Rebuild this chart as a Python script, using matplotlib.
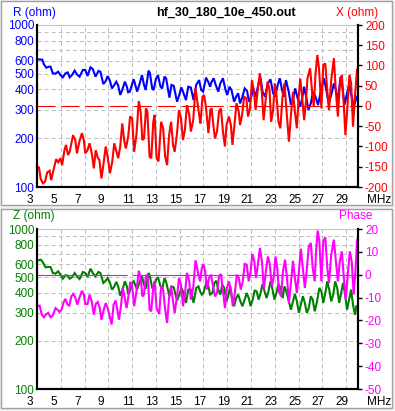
import matplotlib
matplotlib.use("Agg")
import matplotlib.pyplot as plt
from matplotlib.transforms import offset_copy
from matplotlib.patches import Rectangle

plt.rcParams['font.family'] = ['Liberation Sans', 'DejaVu Sans']
plt.rcParams['lines.scale_dashes'] = False
TICKFONT = ['Liberation Sans Narrow', 'Liberation Sans', 'DejaVu Sans']
TS = 8.5

title = "hf_30_180_10e_450.out"
xtick_vals = [3, 5, 7, 9, 11, 13, 15, 17, 19, 21, 23, 25, 27, 29]
log_ticks = [100, 200, 300, 400, 500, 600, 700, 800, 900, 1000]
log_labels = ["100", "200", "300", "400", "500", "600", "", "800", "", "1000"]
x_ticks = [-200, -150, -100, -50, 0, 50, 100, 150, 200]
ph_ticks = [-50, -40, -30, -20, -10, 0, 10, 20]

freq_R = [3.03, 3.44, 3.58, 3.78, 4.00, 4.14, 4.33, 4.56, 4.78, 4.97, 5.17, 5.39, 5.58, 5.75, 5.94,
          6.17, 6.36, 6.58, 6.86, 7.06, 7.25, 7.50, 7.69, 7.92, 8.17, 8.33, 8.58, 8.78, 8.94, 9.11,
          9.31, 9.47, 9.67, 9.83, 10.00, 10.19, 10.39, 10.56, 10.67, 10.81, 11.00, 11.14, 11.31, 11.42,
          11.64, 11.83, 12.00, 12.14, 12.39, 12.50, 12.69, 12.81, 13.00, 13.17, 13.39, 13.53, 13.72,
          13.86, 14.14, 14.31, 14.50, 14.78, 14.97, 15.14, 15.28, 15.53, 15.72, 15.94, 16.17, 16.39,
          16.64, 16.81, 16.97, 17.22, 17.42, 17.56, 17.69, 17.86, 18.03, 18.25, 18.42, 18.64, 18.86,
          19.00, 19.19, 19.36, 19.58, 19.75, 19.92, 20.08, 20.28, 20.47, 20.67, 20.83, 21.03, 21.19,
          21.39, 21.64, 21.81, 21.97, 22.19, 22.42, 22.64, 22.86, 23.03, 23.25, 23.42, 23.64, 23.75,
          23.94, 24.17, 24.36, 24.58, 24.72, 24.92, 25.14, 25.33, 25.47, 25.69, 25.83, 26.03, 26.22,
          26.42, 26.64, 26.86, 27.14, 27.36, 27.53, 27.75, 27.97, 28.14, 28.31, 28.53, 28.69, 28.86,
          29.08, 29.25, 29.47, 29.64, 29.81, 29.92]
R_ohm = [614, 611, 572, 545, 553, 553, 503, 501, 515, 491, 475, 503, 510, 475, 491,
         523, 496, 480, 528, 528, 484, 548, 535, 480, 520, 515, 432, 451, 484, 457,
         406, 423, 447, 423, 370, 401, 447, 416, 384, 388, 432, 462, 416, 388,
         436, 491, 427, 397, 523, 503, 406, 397, 464, 491, 416, 406, 480,
         469, 356, 427, 421, 336, 370, 412, 388, 344, 416, 411, 344, 427,
         457, 397, 388, 473, 443, 416, 447, 469, 427, 388, 436, 469, 397,
         370, 416, 397, 336, 361, 379, 328, 361, 406, 392, 336, 361, 406,
         361, 436, 469, 388, 361, 436, 462, 379, 361, 427, 469, 388, 361,
         457, 388, 321, 361, 406, 353, 313, 361, 416, 344, 299, 328, 388,
         361, 321, 388, 469, 388, 328, 370, 436, 397, 336, 480, 416, 321,
         379, 427, 361, 313, 344, 361]

freq_X = [3.03, 3.17, 3.31, 3.50, 3.67, 3.86, 4.06, 4.19, 4.42, 4.61, 4.78, 4.97, 5.11, 5.31, 5.44,
          5.61, 5.75, 5.89, 6.03, 6.22, 6.36, 6.56, 6.78, 6.94, 7.06, 7.25, 7.42, 7.61, 7.78, 7.94,
          8.11, 8.25, 8.42, 8.58, 8.78, 8.94, 9.14, 9.33, 9.50, 9.69, 9.83, 10.00, 10.17, 10.33,
          10.47, 10.67, 10.83, 11.00, 11.17, 11.36, 11.56, 11.72, 11.86, 12.00, 12.17, 12.28, 12.47,
          12.61, 12.78, 12.89, 13.06, 13.22, 13.44, 13.61, 13.78, 13.94, 14.11, 14.28, 14.44, 14.58,
          14.78, 14.94, 15.11, 15.28, 15.44, 15.61, 15.81, 15.94, 16.14, 16.33,
          16.64, 16.75, 16.92, 17.06, 17.22, 17.42, 17.58, 17.69, 17.83, 17.97, 18.14, 18.31, 18.47,
          18.64, 18.81, 18.94, 19.14, 19.31, 19.44, 19.58, 19.78, 19.97, 20.08, 20.25, 20.42, 20.61,
          20.75, 20.92, 21.08, 21.25, 21.39, 21.58, 21.75, 21.92, 22.06, 22.22, 22.39, 22.56, 22.69,
          22.86, 23.00, 23.14, 23.31, 23.47, 23.64, 23.81, 23.97, 24.19, 24.36, 24.53, 24.69, 24.86,
          25.00, 25.14, 25.31, 25.47, 25.61, 25.75, 25.97, 26.14, 26.28, 26.42, 26.58, 26.72, 26.92,
          27.08, 27.25, 27.42, 27.56, 27.75, 27.97, 28.14, 28.31, 28.47, 28.64, 28.81, 28.94, 29.11,
          29.28, 29.42, 29.58, 29.75, 29.92]
X_ohm = [-150, -152, -180, -191, -187, -164, -160, -183, -154, -131, -139, -129, -146, -109, -96,
         -121, -113, -92, -72, -84, -117, -88, -67, -84, -117, -109, -92, -117, -154, -109,
         -128, -133, -179, -146, -100, -125, -166, -137, -92, -113, -129, -100, -43, -84,
         -105, -76, -26, -30, -113, -72, 12, -14, -84, -80, -6, -14, -125,
         -129, -39, -22, -129, -137, -39, -55, -125, -146, -72, -39, -96, -113,
         -67, -10, -30, -84, -59, 2, -22, -63, -35, 44,
         -22, -43, 23, 27, -6, -67, -10, -6, -47, -80, -63, -14, -6,
         -63, -100, -47, -26, -47, -96, -55, 7, -14, -47, -22, 23, 19,
         -26, -6, 64, 35, -10, 44, 81, 31, -35, 11, 60, 40, -39,
         -10, 56, 27, -39, -55, 19, 56, -6, -88, -22, 35, -14, -55,
         19, 68, 19, -35, 7, 68, 93, 35, -2, 77, 126, 93, -6,
         101, 105, 35, -10, 64, 118, 35, -26, 52, 77, 2, -72, -2,
         77, 56, -51, 27, 90]

freq_Z = [3.03, 3.31, 3.44, 3.72, 3.92, 4.14, 4.33, 4.56, 4.78, 4.97, 5.17, 5.39, 5.58, 5.75, 5.94,
          6.17, 6.36, 6.58, 6.86, 7.06, 7.25, 7.50, 7.69, 7.92, 8.17, 8.33, 8.58, 8.78, 8.94, 9.11,
          9.31, 9.47, 9.67, 9.83, 10.00, 10.19, 10.39, 10.56, 10.67, 10.81, 11.00, 11.14, 11.31, 11.42,
          11.64, 11.83, 12.00, 12.14, 12.39, 12.50, 12.69, 12.81, 13.00, 13.17, 13.39, 13.53, 13.72,
          13.86, 14.14, 14.31, 14.50, 14.78, 14.97, 15.14, 15.28, 15.53, 15.72, 15.94, 16.17, 16.39,
          16.58, 16.72, 16.86, 17.00, 17.28, 17.42, 17.56, 17.75, 17.92, 18.08, 18.25, 18.42, 18.58,
          18.75, 18.94, 19.08, 19.25, 19.42, 19.58, 19.75, 19.92, 20.11, 20.28, 20.47, 20.64, 20.81,
          20.97, 21.14, 21.31, 21.47, 21.64, 21.81, 21.97, 22.14, 22.31, 22.47, 22.64, 22.81, 22.97,
          23.14, 23.31, 23.47, 23.67, 23.81, 23.97, 24.17, 24.36, 24.53, 24.69, 24.86, 25.03, 25.19,
          25.36, 25.53, 25.69, 25.86, 26.03, 26.19, 26.36, 26.53, 26.75, 26.92, 27.08, 27.25, 27.42,
          27.58, 27.75, 27.92, 28.08, 28.25, 28.42, 28.58, 28.75, 28.92, 29.08, 29.25, 29.42, 29.58,
          29.75, 29.86]
Z_ohm = [634, 643, 628, 576, 579, 579, 531, 526, 544, 518, 489, 514, 512, 489, 499,
         531, 506, 487, 539, 531, 501, 565, 531, 506, 539, 531, 460, 475, 494, 467,
         418, 432, 467, 438, 383, 418, 471, 438, 392, 408, 460, 471, 438, 418,
         471, 506, 449, 422, 531, 506, 428, 418, 482, 499, 438, 418, 494,
         467, 380, 438, 432, 357, 389, 428, 408, 345, 418, 418, 345, 428,
         438, 408, 389, 398, 475, 438, 389, 398, 460, 475, 418, 389, 449,
         428, 353, 380, 438, 362, 329, 370, 389, 353, 329, 362, 398, 370,
         329, 362, 412, 408, 362, 398, 453, 408, 370, 408, 471, 418, 362,
         398, 453, 428, 370, 438, 408, 357, 313, 353, 392, 353, 299, 336,
         380, 345, 299, 321, 380, 362, 306, 345, 428, 408, 345, 398, 471,
         418, 353, 389, 471, 428, 345, 398, 460, 389, 313, 362, 418, 336,
         291, 329]

freq_P = [3.03, 3.22, 3.39, 3.58, 3.78, 3.94, 4.14, 4.33, 4.56, 4.72, 4.89, 5.06, 5.25, 5.39, 5.56,
          5.72, 5.89, 6.03, 6.22, 6.39, 6.56, 6.78, 6.94, 7.06, 7.25, 7.42, 7.61, 7.78, 7.94, 8.11,
          8.28, 8.42, 8.58, 8.78, 8.94, 9.14, 9.28, 9.44, 9.61, 9.78, 9.89, 10.06, 10.22, 10.39,
          10.53, 10.67, 10.83, 11.00, 11.17, 11.33, 11.56, 11.72, 11.86, 12.00, 12.17, 12.33, 12.47,
          12.61, 12.78, 12.89, 13.06, 13.28, 13.44, 13.61, 13.78, 13.94, 14.11, 14.28, 14.44, 14.58,
          14.78, 14.94, 15.11, 15.28, 15.44, 15.61, 15.81, 15.94, 16.14, 16.33,
          16.58, 16.72, 16.86, 17.00, 17.14, 17.31, 17.47, 17.64, 17.81, 17.97, 18.14, 18.31, 18.47,
          18.64, 18.81, 18.97, 19.14, 19.31, 19.47, 19.64, 19.81, 19.97, 20.14, 20.31, 20.47, 20.64,
          20.81, 20.97, 21.11, 21.28, 21.42, 21.58, 21.75, 21.92, 22.08, 22.25, 22.42, 22.58, 22.75,
          22.92, 23.06, 23.19, 23.36, 23.53, 23.69, 23.86, 24.03, 24.19, 24.36, 24.53, 24.69, 24.86,
          25.03, 25.19, 25.36, 25.53, 25.69, 25.86, 26.03, 26.19, 26.36, 26.47, 26.61, 26.75, 26.92,
          27.08, 27.25, 27.42, 27.56, 27.75, 27.97, 28.14, 28.31, 28.47, 28.64, 28.81, 28.97, 29.14,
          29.31, 29.47, 29.64, 29.81, 29.92]
phase_deg = [-13.8, -13.5, -17.2, -18.6, -17.2, -16.7, -18.6, -17.8, -14.6, -15.3, -16.3, -15.3, -11.9, -10.6, -13.1,
             -13.5, -9.5, -8.4, -9.9, -13.1, -10.2, -7.0, -8.7, -12.8, -12.8, -8.7, -11.9, -17.5, -12.8, -11.9,
             -14.6, -19.7, -16.0, -12.4, -14.6, -18.9, -21.8, -13.1, -11.3, -16.0, -19.7, -13.8, -5.8, -10.2,
             -14.6, -10.2, -3.6, -4.3, -13.8, -8.7, 1.8, -1.4, -9.5, -8.7, 0.0, -1.4, -15.3,
             -16.0, -5.1, -2.9, -14.6, -17.2, -5.1, -6.5, -15.3, -21.1, -10.2, -5.1, -11.6, -16.7,
             -9.5, -1.4, -4.3, -13.8, -8.7, 0.8, -2.9, -10.9, -5.8, 6.3,
             0.0, -2.9, 2.9, 4.7, 1.5, -6.5, -1.4, 0.0, -5.1, -9.5, -8.0, -0.7, 0.3,
             -7.3, -14.6, -5.8, -2.9, -6.5, -13.8, -8.0, 0.0, -1.4, -6.5, -2.9, 4.7, 4.4,
             -2.9, 1.5, 9.1, 5.9, -1.4, 4.4, 11.7, 5.9, -6.5, 1.5, 8.0, 4.4, -5.1,
             -0.7, 8.0, 3.7, -7.3, -9.5, 1.5, 6.6, -1.4, -12.4, -3.6, 6.1, -1.4, -8.0,
             1.5, 11.4, 2.9, -5.8, 2.2, 12.4, 13.9, 2.9, -2.9, 10.2, 19.3, 14.6, -2.9,
             14.6, 16.4, 2.9, -3.6, 8.8, 15.3, 5.9, -2.9, 5.9, 10.2, -1.4, -10.9, 0.0,
             10.2, 5.9, -8.7, 3.7, 15.3]

W, H = 395, 411
fig = plt.figure(figsize=(W / 100, H / 100), dpi=100)
fig.patch.set_facecolor('#f0f0f0')

def fx(x):
    return x / W

def fy(y):
    return 1 - y / H

# panel frames
for (x0, y0, x1, y1) in [(1, 1, 392, 205), (1, 209, 392, 408)]:
    fig.patches.append(Rectangle((fx(x0), fy(y1)), fx(x1) - fx(x0), fy(y0) - fy(y1),
                                 transform=fig.transFigure, facecolor='white',
                                 edgecolor='#a0a0a0', linewidth=1.0, zorder=-5))

GRID = '#c0c0c0'
ax_left, ax_right = 37, 358

def make_panel(top, bottom, lcolor, rcolor, rticks, rlim):
    ax = fig.add_axes([fx(ax_left), fy(bottom), fx(ax_right) - fx(ax_left), fy(top) - fy(bottom)])
    ax.set_zorder(2)
    ax.set_facecolor('white')
    ax.set_yscale('log')
    ax.set_ylim(100, 1000)
    ax.set_xlim(3, 30)
    ax.set_yticks(log_ticks)
    ax.set_yticklabels(log_labels, family=TICKFONT, fontsize=TS)
    ax.yaxis.set_minor_locator(plt.NullLocator())
    ax.set_xticks(xtick_vals)
    ax.set_xticklabels([])
    ax.tick_params(axis='y', length=0, pad=2, labelcolor=lcolor)
    ax.tick_params(axis='x', length=0)
    ax.grid(True, color=GRID, linestyle=(0, (2.9, 2.2)), linewidth=0.75)
    for s in ['left', 'bottom', 'right']:
        ax.spines[s].set_color('black')
        ax.spines[s].set_linewidth(1.5)
    ax.spines['top'].set_color(GRID)
    ax.spines['top'].set_linewidth(0.75)
    ax2 = ax.twinx()
    ax2.set_zorder(3)
    ax2.set_ylim(*rlim)
    ax2.set_yticks(rticks)
    ax2.set_yticklabels([str(t) for t in rticks], family=TICKFONT, fontsize=TS)
    ax2.tick_params(axis='y', length=3, width=1, color='black', pad=2,
                    labelcolor=rcolor, direction='out')
    for s in ['left', 'bottom', 'right']:
        ax2.spines[s].set_color('black')
        ax2.spines[s].set_linewidth(1.5)
    ax2.spines['top'].set_visible(False)
    tr = offset_copy(ax.get_xaxis_transform(), fig=fig, x=-10.5, y=-7, units='dots')
    for v in xtick_vals:
        ax.text(v, 0, str(v), transform=tr, ha='left', va='top', fontsize=TS,
                family=TICKFONT, color='black')
    trm = offset_copy(ax.transAxes, fig=fig, x=9, y=-7, units='dots')
    ax.text(1, 0, 'MHz', transform=trm, ha='left', va='top', fontsize=TS,
            family=TICKFONT, color='black')
    return ax, ax2

# top panel
axR, axX = make_panel(25, 187, '#0000ff', '#ff0000', x_ticks, (-200, 200))
axR.plot(freq_R, R_ohm, color='#0000ff', linewidth=1.5, solid_joinstyle='miter')
axX.axhline(0, color='#ff0000', linewidth=0.8, linestyle=(0, (13, 4.3)))
axX.plot(freq_X, X_ohm, color='#ff0000', linewidth=1.5, solid_joinstyle='miter')

# bottom panel
axZ, axP = make_panel(229, 389, '#008000', '#ff00ff', ph_ticks, (-50, 20))
axP.axhline(0, color='#ff00ff', linewidth=0.8, linestyle=(0, (65, 3.6)))
axZ.plot(freq_Z, Z_ohm, color='#008000', linewidth=1.5, solid_joinstyle='miter')
axP.plot(freq_P, phase_deg, color='#ff00ff', linewidth=1.5, solid_joinstyle='miter')

# labels
fig.text(fx(13), fy(13), 'R (ohm)', color='#0000ff', fontsize=TS, family=TICKFONT, ha='left', va='center')
fig.text(fx(378), fy(13), 'X (ohm)', color='#ff0000', fontsize=TS, family=TICKFONT, ha='right', va='center')
fig.text(fx(226), fy(13), title, color='black', fontsize=9, fontweight='bold', ha='center', va='center')
fig.text(fx(13), fy(216), 'Z (ohm)', color='#008000', fontsize=TS, family=TICKFONT, ha='left', va='center')
fig.text(fx(372), fy(216), 'Phase', color='#ff00ff', fontsize=TS, family=TICKFONT, ha='right', va='center')

fig.savefig('out.png', dpi=100, facecolor=fig.get_facecolor())
